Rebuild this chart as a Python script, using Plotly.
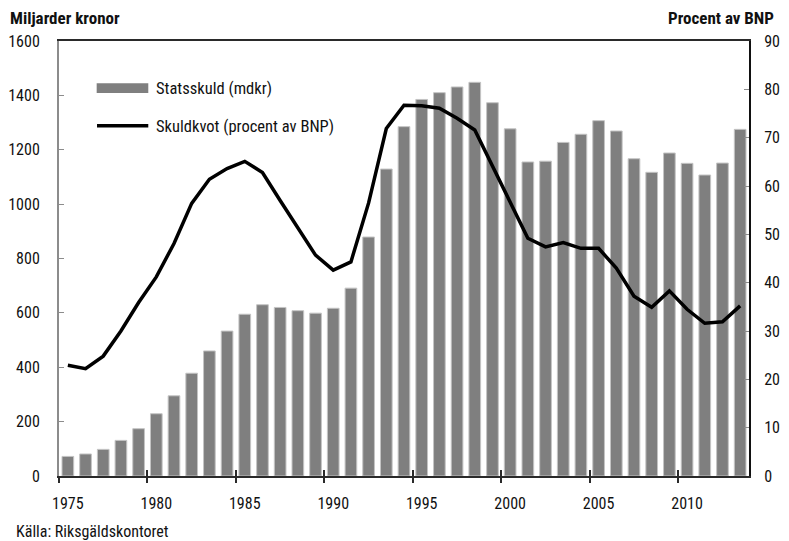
import plotly.graph_objects as go

years = list(range(1975, 2014))
statsskuld = [72, 81, 98, 131, 174, 229, 295, 378, 460, 533, 595, 630, 620, 608, 599,
              617, 691, 879, 1129, 1285, 1385, 1410, 1431, 1448, 1373, 1277, 1155, 1158,
              1227, 1257, 1307, 1269, 1167, 1117, 1188, 1150, 1107, 1151, 1275]
skuldkvot = [22.9, 22.2, 24.8, 30.0, 35.9, 41.2, 48.1, 56.4, 61.4, 63.6, 65.1, 62.8,
             57.0, 51.4, 45.7, 42.6, 44.3, 56.5, 71.9, 76.7, 76.6, 76.1, 74.0, 71.6,
             64.0, 56.4, 49.2, 47.4, 48.3, 47.1, 47.1, 43.0, 37.2, 34.9, 38.3, 34.5,
             31.6, 31.9, 35.2]
tick_years = [1975, 1980, 1985, 1990, 1995, 2000, 2005, 2010]
left_ticks = [0, 200, 400, 600, 800, 1000, 1200, 1400, 1600]
right_ticks = [0, 10, 20, 30, 40, 50, 60, 70, 80, 90]

FONT = "Roboto Condensed, Liberation Sans Narrow, sans-serif"
BAR_COLOR = "#7f7f7f"

fig = go.Figure()
fig.add_trace(go.Bar(x=years, y=statsskuld, name="Statsskuld (mdkr)",
                     marker=dict(color=BAR_COLOR, line=dict(color="#c4c4c4", width=1)),
                     width=0.66, yaxis="y"))
fig.add_trace(go.Scatter(x=years, y=skuldkvot, name="Skuldkvot (procent av BNP)",
                         mode="lines", line=dict(color="black", width=3.5), yaxis="y2"))
# helper traces so the tick-only overlay axes are drawn
fig.add_trace(go.Scatter(x=[None], y=[None], xaxis="x2", showlegend=False))
fig.add_trace(go.Scatter(x=[None], y=[None], xaxis="x3", showlegend=False))

xrange = [years[0] - 0.5, years[-1] + 0.5]
boundaries = [y - 0.5 for y in tick_years]
fig.update_layout(
    width=781, height=533,
    margin=dict(l=51, r=40, t=33, b=65),
    plot_bgcolor="white", paper_bgcolor="white",
    showlegend=False,
    font=dict(family=FONT, size=16, color="#111"),
    xaxis=dict(range=xrange, tickvals=tick_years, ticktext=[str(y) for y in tick_years],
               showline=True, linecolor="#2a2a2a", linewidth=2, mirror=True,
               ticks="", showgrid=False, zeroline=False, ticklabelstandoff=12,
               automargin=False),
    xaxis2=dict(range=xrange, overlaying="x", tickvals=boundaries,
                showticklabels=False, ticks="outside", ticklen=6, tickcolor="#2a2a2a",
                tickwidth=1.5, showline=False, showgrid=False, zeroline=False,
                side="bottom", anchor="y", automargin=False),
    xaxis3=dict(range=xrange, overlaying="x", tickvals=boundaries,
                showticklabels=False, ticks="inside", ticklen=6, tickcolor="#2a2a2a",
                tickwidth=1.5, showline=False, showgrid=False, zeroline=False,
                side="bottom", anchor="y", automargin=False),
    yaxis=dict(range=[0, 1600], tickvals=left_ticks, showline=True, linecolor="#8c8c8c",
               linewidth=2, ticks="inside", ticklen=5, tickcolor="#8c8c8c",
               showgrid=False, zeroline=False, ticklabelstandoff=14, automargin=False),
    yaxis2=dict(range=[0, 90], tickvals=right_ticks, overlaying="y", side="right",
                showline=True, linecolor="#111", linewidth=2, ticks="inside",
                ticklen=5, tickcolor="#8c8c8c", showgrid=False, zeroline=False,
                ticklabelstandoff=10, automargin=False),
)

# legend drawn by hand to match the wide swatches
fig.add_shape(type="rect", xref="paper", yref="paper", x0=0.0546, x1=0.1294,
              y0=0.8805, y1=0.9028, fillcolor=BAR_COLOR, line=dict(width=0))
fig.add_annotation(xref="paper", yref="paper", x=0.1377, y=0.8913, text="Statsskuld (mdkr)",
                   showarrow=False, xanchor="left", yanchor="middle", font=dict(size=16.5))
fig.add_shape(type="line", xref="paper", yref="paper", x0=0.0551, x1=0.1294,
              y0=0.8053, y1=0.8053, line=dict(color="black", width=3.5))
fig.add_annotation(xref="paper", yref="paper", x=0.1377, y=0.8034,
                   text="Skuldkvot (procent av BNP)",
                   showarrow=False, xanchor="left", yanchor="middle", font=dict(size=16.5))

# axis titles and source
fig.add_annotation(xref="paper", yref="paper", x=-0.0739, y=1.0529,
                   text="<b>Miljarder kronor</b>", showarrow=False,
                   xanchor="left", yanchor="middle", font=dict(size=17))
fig.add_annotation(xref="paper", yref="paper", x=1.0391, y=1.0529,
                   text="<b>Procent av BNP</b>", showarrow=False,
                   xanchor="right", yanchor="middle", font=dict(size=17))
fig.add_annotation(xref="paper", yref="paper", x=-0.0652, y=-0.1287,
                   text="Källa: Riksgäldskontoret", showarrow=False,
                   xanchor="left", yanchor="middle", font=dict(size=16))

fig.write_html("out.html")
